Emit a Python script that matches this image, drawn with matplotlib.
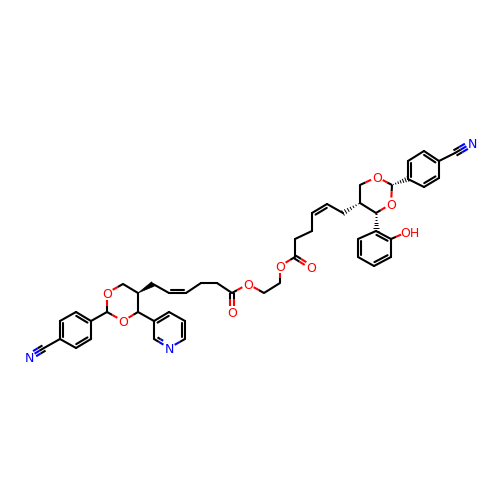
import numpy as np
import matplotlib
matplotlib.use("Agg")
import matplotlib.pyplot as plt
from matplotlib.patches import Polygon

atom_x = [29,44,60,60,76,91,91,76,107,107,123,138,138,123,153,169,186,201,217,232,232,248,264,280,
          280,295,311,295,312,312,327,343,360,360,377,392,391,376,376,391,391,374,358,358,407,
          408,408,424,439,439,424,455,472,154,169,185,185,169,154]
atom_y = [357,348,339,321,312,321,339,348,312,293,284,293,312,321,284,293,293,283,283,293,312,284,293,283,
          266,257,267,239,231,213,204,213,203,185,177,185,204,213,231,239,257,266,257,239,232,
          179,161,151,161,178,187,153,143,321,312,321,339,348,339]
atom_label = {0:"N",9:"O",13:"O",20:"O",21:"O",24:"O",26:"O",34:"O",36:"O",44:"OH",52:"N",57:"N"}

single_bonds = [(1,2),(2,7),(3,4),(5,6),(5,8),(8,9),(9,10),(10,11),(11,12),(12,13),(13,8),(14,15),
                (16,17),(17,18),(18,19),(19,21),(21,22),(22,23),(23,24),(24,25),(25,27),(27,28),(28,29),
                (30,31),(32,33),(33,34),(34,35),(35,36),(36,37),(37,32),(38,43),(39,40),(41,42),(39,44),
                (45,50),(46,47),(48,49),(48,51),(12,53),(54,55),(56,57),(58,53)]
# double bonds: atom, atom, atom on the side of the second stroke (None = centred pair)
double_bonds = [(2,3,5),(4,5,7),(6,7,3),(15,16,14),(19,20,None),(25,26,None),(29,30,31),
                (42,43,40),(38,39,41),(40,41,43),(45,46,48),(47,48,50),(49,50,46),
                (53,54,56),(55,56,58),(57,58,55)]
triple_bonds = [(1,0),(51,52)]
wedge_bonds = [(11,14)]
hash_bonds = [(32,31),(37,38),(35,45)]

BLACK = "#000000"
LW = 1.5
colors = {"O": "#FF0000", "N": "#0000FF"}
P = np.column_stack([atom_x, atom_y]).astype(float)

fig = plt.figure(figsize=(5, 5), dpi=100)
ax = fig.add_axes([0, 0, 1, 1])
ax.set_xlim(0, 500)
ax.set_ylim(500, 0)
ax.axis("off")

def col(i):
    lab = atom_label.get(i)
    return colors[lab[0]] if lab else BLACK

def seg(a, b, i, j):
    """Draw a stroke split in two at its middle, coloured by the end atoms."""
    a, b = np.asarray(a, float), np.asarray(b, float)
    m = (a + b) / 2
    if col(i) == col(j):
        ax.plot([a[0], b[0]], [a[1], b[1]], color=col(i), lw=LW, solid_capstyle="round", zorder=2)
    else:
        ax.plot([a[0], m[0]], [a[1], m[1]], color=col(i), lw=LW, solid_capstyle="butt", zorder=2)
        ax.plot([m[0], b[0]], [m[1], b[1]], color=col(j), lw=LW, solid_capstyle="butt", zorder=2)

def ends(i, j, gap=6.5):
    a, b = P[i].copy(), P[j].copy()
    u = (b - a) / np.linalg.norm(b - a)
    if i in atom_label:
        a = a + u * gap
    if j in atom_label:
        b = b - u * gap
    return a, b, u

for i, j in single_bonds:
    a, b, u = ends(i, j)
    seg(a, b, i, j)

for i, j, ref in double_bonds:
    a, b, u = ends(i, j)
    n = np.array([-u[1], u[0]])
    if ref is None:
        seg(a + n * 1.6, b + n * 1.6, i, j)
        seg(a - n * 1.6, b - n * 1.6, i, j)
    else:
        side = np.sign(np.dot(P[ref] - P[i], n))
        seg(a, b, i, j)
        seg(a + n * side * 3.2 + u * 2.2, b + n * side * 3.2 - u * 2.2, i, j)

for i, j in triple_bonds:
    a, b, u = ends(i, j)
    n = np.array([-u[1], u[0]])
    seg(a, b, i, j)
    seg(a + n * 3, b + n * 3, i, j)
    seg(a - n * 3, b - n * 3, i, j)

for i, j in wedge_bonds:
    a, b = P[i], P[j]
    u = (b - a) / np.linalg.norm(b - a)
    n = np.array([-u[1], u[0]])
    ax.add_patch(Polygon([a, b + n * 2.6, b - n * 2.6], closed=True, fc=BLACK, ec=BLACK, lw=0.4, zorder=2))

for i, j in hash_bonds:
    a, b = P[i], P[j]
    d = np.linalg.norm(b - a)
    u = (b - a) / d
    n = np.array([-u[1], u[0]])
    for t in np.linspace(0.08, 1.0, 7):
        c = a + u * d * t
        w = 0.3 + 2.6 * t
        ax.plot([c[0] - n[0] * w, c[0] + n[0] * w], [c[1] - n[1] * w, c[1] + n[1] * w],
                color=BLACK, lw=0.7, solid_capstyle="butt", zorder=2)

for i, lab in atom_label.items():
    x, y = P[i]
    if lab == "OH":
        ax.text(x - 7, y, lab, color=colors["O"], fontsize=9, family="DejaVu Sans",
                ha="left", va="center_baseline", zorder=3)
    else:
        ax.text(x, y, lab, color=colors[lab], fontsize=9, family="DejaVu Sans",
                ha="center", va="center_baseline", zorder=3)

fig.savefig("out.png", dpi=100, facecolor="white")
